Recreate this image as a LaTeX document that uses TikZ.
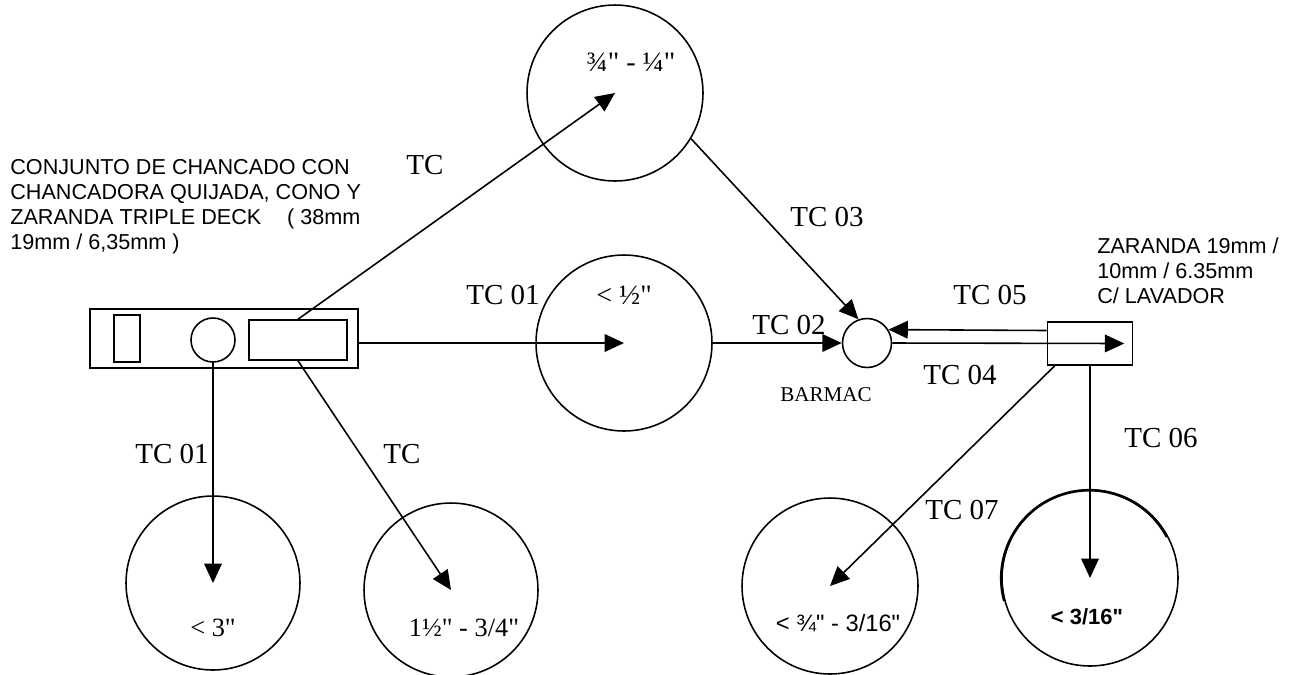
\documentclass[tikz,border=0pt]{standalone}
\usepackage{fontspec}
\setmainfont{Liberation Serif}[Ligatures=TeXOff]
\setsansfont{Liberation Sans}[Ligatures=TeXOff]
\usetikzlibrary{arrows.meta, positioning}

\begin{document}
\begin{tikzpicture}[
    x=0.02cm, y=-0.02cm,
    >={Triangle[length=11pt, width=10pt]},
    flow/.style={->, line width=0.9pt},
    pile/.style={draw, circle, line width=0.9pt, minimum size=3.52cm, inner sep=0pt},
    unit/.style={draw, line width=0.9pt, inner sep=0pt},
    tclbl/.style={font=\fontsize{16.5}{18}\selectfont, inner sep=0pt},
    sizelbl/.style={font=\fontsize{16}{18}\selectfont, inner sep=0pt},
    note/.style={font=\sffamily\fontsize{12.3}{14.2}\selectfont, align=left, inner sep=0pt, anchor=west},
]
    \useasboundingbox (0,0) rectangle (1298,674);

    % Crushing plant
    \node[unit, minimum width=5.36cm, minimum height=1.18cm] (crusher) at (224,338.5) {};
    \node[unit, minimum width=0.52cm, minimum height=0.94cm] (jaw) at (127,338.5) {};
    \node[unit, circle, minimum size=0.88cm] (cone) at (213,340) {};
    \node[unit, minimum width=1.96cm, minimum height=0.8cm] (deck) at (298,340) {};
    \node[note] (plantnote) at (10,207) {CONJUNTO DE CHANCADO CON\\CHANCADORA QUIJADA, CONO Y\\ZARANDA TRIPLE DECK\hspace{1.2em}( 38mm\\19mm / 6,35mm )};

    % Stock piles
    \node[pile] (pileA) at (615,93) {};
    \node[pile] (pileB) at (624,343) {};
    \node[pile, minimum size=3.48cm] (pileC) at (213,583) {};
    \node[pile, minimum size=3.48cm] (pileD) at (451,590) {};
    \node[pile] (pileE) at (830,586) {};
    \node[pile] (pileF) at (1090,578) {};
    \draw[line width=1.5pt] (pileF.195) arc[start angle=195, end angle=28, radius=1.76cm];

    % Barmac and screen
    \node[unit, circle, minimum size=0.98cm] (barmac) at (867,343) {};
    \node[unit, minimum width=1.7cm, minimum height=0.86cm] (zaranda) at (1090,343.5) {};
    \node[font=\fontsize{12}{14}\selectfont] (barmaclbl) at (826,395) {BARMAC};
    \node[note] (screennote) at (1097,271) {ZARANDA 19mm /\\10mm / 6.35mm\\C/ LAVADOR};

    % Conveyors
    \draw[flow] (deck.north) -- (pileA.center);
    \draw[flow] (deck.south) -- (pileD.center);
    \draw[flow] (cone.south) -- (pileC.center);
    \draw[flow] (crusher.east |- pileB.center) -- (pileB.center);
    \draw[flow] (pileB.east) -- (barmac.west);
    \draw[flow] (pileA.-31) -- (barmac.110);
    \draw[flow] ([yshift=0.26cm]zaranda.west) -- (barmac.32);
    \draw[flow] (barmac.east) -- ([xshift=-0.18cm]zaranda.east);
    \draw[flow] (zaranda.south) -- (pileF.center);
    \draw[flow] ([xshift=0.16cm]zaranda.south west) -- (pileE.center);

    \node[tclbl] (tcA) at (425,165) {TC};
    \node[tclbl] (tc01a) at (503,295) {TC 01};
    \node[tclbl] (tc01b) at (172,454) {TC 01};
    \node[tclbl] (tcB) at (402,454) {TC};
    \node[tclbl] (tc02) at (789,325) {TC 02};
    \node[tclbl] (tc03) at (827,217) {TC 03};
    \node[tclbl] (tc04) at (960,375) {TC 04};
    \node[tclbl] (tc05) at (990,295) {TC 05};
    \node[tclbl] (tc06) at (1161,438) {TC 06};
    \node[tclbl] (tc07) at (962,510) {TC 07};

    % Sizes
    \node[sizelbl] (sizeA) at (631,62) {¾" - ¼"};
    \node[sizelbl] (sizeB) at (624,295) {< ½"};
    \node[sizelbl, font=\fontsize{15}{17}\selectfont] (sizeC) at (213,628) {< 3"};
    \node[sizelbl, font=\fontsize{15}{17}\selectfont] (sizeD) at (464,628) {1½" - 3/4"};
    \node[font=\sffamily\fontsize{13.5}{15}\selectfont, inner sep=0pt] (sizeE) at (838,623) {< ¾" - 3/16"};
    \node[font=\sffamily\bfseries\fontsize{12.5}{14}\selectfont, inner sep=0pt] (sizeF) at (1087,617) {< 3/16"};
\end{tikzpicture}
\end{document}
